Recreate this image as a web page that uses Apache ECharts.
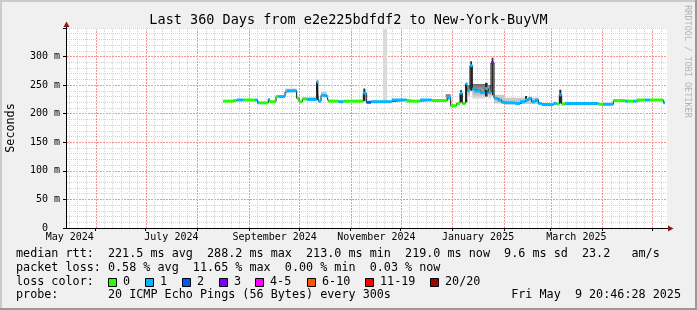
<!DOCTYPE html>
<html><head><meta charset="utf-8">
<script src="https://cdn.jsdelivr.net/npm/echarts@6/dist/echarts.min.js"></script>
<style>html,body{margin:0;padding:0;background:#f0f0f0}#c{width:697px;height:310px}</style>
</head><body><div id="c"></div>
<script>
// ---------------- data ----------------
const END_MS = Date.UTC(2025, 4, 9, 20, 46, 28);
const SPAN_DAYS = 360;
const Y_MAX = 350;

// median RTT step segments (day offset from graph start, ms, loss bucket index)
const segStart = [93.8, 99.8, 101.8, 105.8, 112.8, 114.4, 115.4, 120.8, 121.8, 125.4, 126.8, 130.8, 131.8, 137.8, 139.2, 141.2, 143.8, 149.8, 150.8, 152.4, 155.8, 156.8, 162.8, 165.8, 177.8, 179.6, 182.4, 194.8, 203.8, 211.8, 218.8, 228.2, 230.2, 233.8, 235.8, 237.2, 239.2, 240.2, 241.8, 243.2, 244.8, 247.8, 250.8, 252.8, 254.4, 256.2, 258.2, 260.8, 262.8, 268.8, 271.8, 274.8, 276.8, 278.8, 280.8, 282.8, 284.8, 291.8, 293.8, 295.4, 296.8, 298.8, 318.8, 321.6, 327.8, 334.8, 336.6, 339.8, 341.8, 346.8, 349.8, 357.8];
const segMedian = [222, 223, 224, 224, 224, 219, 219, 225, 221, 230, 230, 238, 240, 227, 221, 226, 225, 255, 222, 232, 230, 222, 221, 222, 236, 220, 221, 224, 222, 224, 223, 228, 214, 218, 236, 218, 252, 241, 284, 243, 240, 237, 244, 237, 289, 227, 224, 220, 219, 218, 221, 224, 227, 221, 224, 218, 216, 218, 217, 233, 217, 218, 216.5, 216.5, 223, 222, 222, 222, 224, 224, 224, 219];
const segLoss = [0,0,1,0,1,1,0,1,0,0,1,1,1,0,0,0,1,1,1,1,1,0,1,0,1,2,1,1,0,1,0,1,0,0,1,0,1,1,1,1,1,1,1,1,3,1,1,1,1,1,1,1,1,1,1,1,1,1,0,1,0,1,0,1,0,1,0,1,0,1,0,1];
const lastDay = 358.8;

// smoke (ping spread) columns
const smokeStart = [130.8, 143.8, 149.8, 152.4, 177.8, 227.2, 235.8, 239.2, 240.2, 242.0, 243.2, 250.8, 252.8, 254.8, 256.2, 262.8, 274.8, 295.4];
const smokeEnd   = [137.8, 149.8, 150.8, 155.8, 179.0, 230.2, 237.0, 240.2, 241.8, 243.0, 250.8, 252.4, 254.4, 255.8, 262.8, 283.0, 276.0, 296.6];
const smokeLo    = [240, 225, 224, 232, 222, 223, 220, 220, 228, 240, 226, 230, 226, 232, 218, 217, 222, 218];
const smokeHi    = [244, 229, 258, 238, 244, 234, 241, 254, 250, 292, 252, 254, 250, 298, 233, 228, 231, 242];
const smokeLevel = [0, 0, 2, 0, 2, 1, 2, 2, 1, 2, 1, 2, 1, 2, 0, 0, 2, 2];

// unknown-data band
const gapStart = [189.6];
const gapEnd = [192.0];
const gapFloor = [221];

// axis labels
const labelMonths = [[2024,4,'May 2024'],[2024,6,'July 2024'],[2024,8,'September 2024'],[2024,10,'November 2024'],[2025,0,'January 2025'],[2025,2,'March 2025']];
const yTickValues = [0, 50, 100, 150, 200, 250, 300];

// legend
const lossLabels = ['0','1','2','3','4-5','6-10','11-19','20/20'];
const lossColors = ['#26ff00','#00b8ff','#0059ff','#7e00ff','#ff00ff','#ff5500','#ff0000','#a10000'];
const legendRow1 = 'median rtt:  221.5 ms avg  288.2 ms max  213.0 ms min  219.0 ms now  9.6 ms sd  23.2   am/s';
const legendRow2 = 'packet loss: 0.58 % avg  11.65 % max  0.00 % min  0.03 % now';
const legendRow3 = 'loss color:';
const legendRow4 = 'probe:       20 ICMP Echo Pings (56 Bytes) every 300s';
const dateText = 'Fri May  9 20:46:28 2025';
const titleText = 'Last 360 Days from e2e225bdfdf2 to New-York-BuyVM';

// ---------------- derived ----------------
const DAY_MS = 86400000;
const START_MS = END_MS - SPAN_DAYS * DAY_MS;
const dayOf = (y, m, d) => (Date.UTC(y, m, d) - START_MS) / DAY_MS;
const monthStarts = [];
for (let i = 0; i < 14; i++) {
  const y = 2024 + Math.floor((4 + i) / 12), m = (4 + i) % 12;
  monthStarts.push(dayOf(y, m, 1));
}
const majorDays = monthStarts.filter(d => d > 0 && d < SPAN_DAYS);
const minorDays = [];
monthStarts.forEach(ms => { for (let k = 1; k <= 5; k++) { const d = ms + 5 * k; if (d > 0 && d < SPAN_DAYS) minorDays.push(d); } });
const labelDays = labelMonths.map(l => dayOf(l[0], l[1], 1) + 15.5);
const labelFor = v => { let bi = 0, bd = 1e9; labelDays.forEach((d, i) => { if (Math.abs(d - v) < bd) { bd = Math.abs(d - v); bi = i; } }); return labelMonths[bi][2]; };

const n = segStart.length;
const segData = segStart.map((d, i) => [d, i < n - 1 ? segStart[i + 1] : lastDay, segMedian[i], segLoss[i]]);
const lineData = segStart.map((d, i) => [d, segMedian[i]]).concat([[lastDay, segMedian[n - 1]]]);
const smokeData = smokeStart.map((d, i) => [d, smokeEnd[i], smokeLo[i], smokeHi[i], smokeLevel[i]]);
const gapData = gapStart.map((d, i) => [d, gapEnd[i], gapFloor[i], Y_MAX]);

const MONO = '"DejaVu Sans Mono", monospace';
const MAJOR = '#f49494';
const MINOR = '#d4d4d4';

const chart = echarts.init(document.getElementById('c'), null, {renderer: 'canvas'});

function rectItem(api, fill) {
  const p0 = api.coord([api.value(0), api.value(3)]);
  const p1 = api.coord([api.value(1), api.value(2)]);
  return {type: 'rect', shape: {x: p0[0], y: p0[1], width: Math.max(1, p1[0] - p0[0]), height: p1[1] - p0[1]}, style: {fill: fill}};
}
function vLines(days, color, dash) {
  return {
    type: 'custom', z: 1, silent: true, clip: true,
    data: days.map(d => [d, 0]),
    renderItem: (params, api) => {
      const p0 = api.coord([api.value(0), 0]);
      const p1 = api.coord([api.value(0), Y_MAX]);
      const x = Math.round(p0[0]) + 0.5;
      return {type: 'line', shape: {x1: x, y1: p0[1], x2: x, y2: p1[1]},
        style: {stroke: color, fill: null, lineWidth: 1, lineDash: dash}};
    }
  };
}

const option = {
  animation: false,
  backgroundColor: '#f0f0f0',
  grid: {left: 67, top: 28, width: 600, height: 200, show: true, backgroundColor: '#ffffff', borderWidth: 0},
  xAxis: {
    type: 'value', min: 0, max: SPAN_DAYS,
    axisLine: {show: false},
    splitLine: {show: false},
    axisTick: {show: true, customValues: majorDays, length: 3, lineStyle: {color: '#000'}},
    axisLabel: {customValues: labelDays, formatter: v => labelFor(v), fontFamily: MONO, fontSize: 10, color: '#000', margin: 4, hideOverlap: false}
  },
  yAxis: [{
    type: 'value', min: 0, max: Y_MAX, interval: 50,
    axisLine: {show: false},
    axisTick: {show: true, length: 4, lineStyle: {color: '#000'}},
    axisLabel: {formatter: v => (yTickValues.indexOf(v) < 0 ? '' : (v === 0 ? '0  ' : v + ' m')), fontFamily: MONO, fontSize: 10, color: '#000', margin: 7},
    splitLine: {show: true, lineStyle: {color: MAJOR, type: [2, 1], width: 1}},
    minorTick: {show: false, splitNumber: 5},
    minorSplitLine: {show: true, lineStyle: {color: MINOR, type: [1, 1], width: 1}}
  }],
  series: [
    vLines(minorDays, MINOR, [1, 1]),
    vLines(majorDays, MAJOR, [2, 1]),
    { // unknown band
      type: 'custom', z: 2, silent: true, clip: true, data: gapData,
      renderItem: (params, api) => rectItem(api, '#dadada')
    },
    { // smoke
      type: 'custom', z: 3, silent: true, clip: true, data: smokeData,
      renderItem: (params, api) => {
        const lvl = api.value(4);
        const fill = lvl === 2 ? '#2a2a2a' : lvl === 1
          ? new echarts.graphic.LinearGradient(0, 0, 0, 1, [{offset: 0, color: '#6a6a6a'}, {offset: 1, color: '#e8e8e8'}])
          : '#c8c8c8';
        return rectItem(api, fill);
      }
    },
    { // black connector
      type: 'line', z: 4, silent: true, step: 'end', showSymbol: false, symbol: 'none',
      data: lineData, lineStyle: {color: '#111', width: 1}
    },
    { // colored median
      type: 'custom', z: 5, silent: true, clip: true, data: segData,
      renderItem: (params, api) => {
        const p0 = api.coord([api.value(0), api.value(2)]);
        const p1 = api.coord([api.value(1), api.value(2)]);
        return {type: 'rect', shape: {x: p0[0], y: p0[1] - 1.5, width: Math.max(1, p1[0] - p0[0]), height: 3},
          style: {fill: lossColors[api.value(3)]}};
      }
    }
  ],
  graphic: []
};

const g = [];
const txt = (text, x, y, size, align, extra) => Object.assign({type: 'text', silent: true, x: x, y: y,
  style: {text: text, font: size + 'px ' + MONO, fill: '#000', align: align || 'left', verticalAlign: 'middle', textAlign: align || 'left', textVerticalAlign: 'middle'}}, extra || {});
// borders
g.push({type: 'rect', silent: true, shape: {x: 0, y: 0, width: 697, height: 2}, style: {fill: '#cbcbcb'}});
g.push({type: 'rect', silent: true, shape: {x: 0, y: 0, width: 2, height: 310}, style: {fill: '#cbcbcb'}});
g.push({type: 'rect', silent: true, shape: {x: 0, y: 308, width: 697, height: 2}, style: {fill: '#999999'}});
g.push({type: 'rect', silent: true, shape: {x: 695, y: 0, width: 2, height: 310}, style: {fill: '#999999'}});
// top grid line (350) in minor colour over the major one
g.push({type: 'line', silent: true, z: 40, shape: {x1: 67, y1: 28.5, x2: 667, y2: 28.5}, style: {stroke: '#ffffff', lineWidth: 1}});
g.push({type: 'line', silent: true, z: 41, shape: {x1: 67, y1: 28.5, x2: 667, y2: 28.5}, style: {stroke: MINOR, lineWidth: 1, lineDash: [1, 1]}});
// axes
g.push({type: 'line', silent: true, z: 50, shape: {x1: 66.5, y1: 228.5, x2: 668, y2: 228.5}, style: {stroke: '#000', lineWidth: 1}});
g.push({type: 'line', silent: true, z: 50, shape: {x1: 66.5, y1: 228.5, x2: 66.5, y2: 26}, style: {stroke: '#000', lineWidth: 1}});
g.push({type: 'polygon', silent: true, z: 51, shape: {points: [[668, 225.5], [668, 231.5], [673.5, 228.5]]}, style: {fill: '#8b1a1a'}});
g.push({type: 'polygon', silent: true, z: 51, shape: {points: [[63.5, 27], [69.5, 27], [66.5, 21.5]]}, style: {fill: '#8b1a1a'}});
// title and side texts
g.push(txt(titleText, 348.5, 20.3, 13.5, 'center'));
g.push(txt('Seconds', 10.5, 128, 11.75, 'center', {rotation: Math.PI / 2}));
g.push(txt('RRDTOOL / TOBI OETIKER', 687.5, 61.5, 8.5, 'center', {rotation: -Math.PI / 2}));
g[g.length - 1].style.fill = '#b4b4b4';
// legend rows
g.push(txt(legendRow1, 16, 254.2, 11.75));
g.push(txt(legendRow2, 16, 268, 11.75));
g.push(txt(legendRow3, 16, 281.7, 11.75));
g.push(txt(legendRow4, 16, 295.4, 11.75));
g.push(txt(dateText, 681, 295.4, 11.75, 'right'));
const boxX = [108.5, 145.5, 182.5, 219.5, 255.5, 307.5, 365.5, 430.5];
lossLabels.forEach((l, i) => {
  g.push({type: 'rect', silent: true, shape: {x: boxX[i], y: 278.5, width: 8, height: 8}, style: {fill: lossColors[i], stroke: '#000', lineWidth: 1}});
  g.push(txt(l, boxX[i] + 14.5, 281.7, 11.75));
});
option.graphic = g;
chart.setOption(option);
</script>
</body></html>
